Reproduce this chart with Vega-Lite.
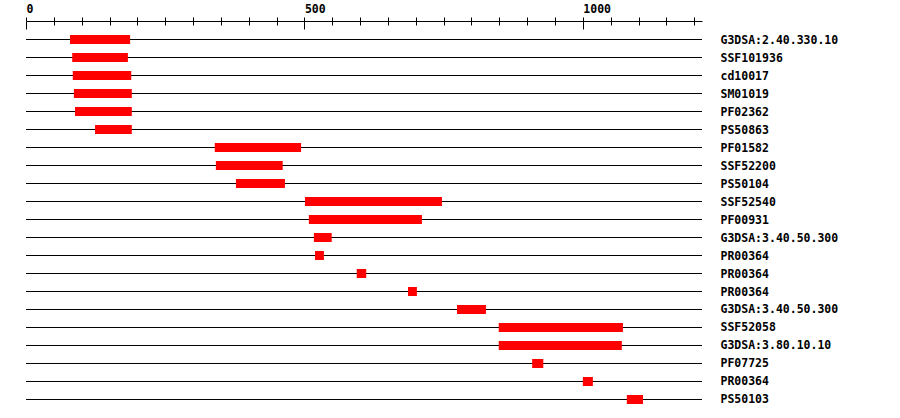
{
  "$schema": "https://vega.github.io/schema/vega-lite/v6.json",
  "autosize": {"type": "none"},
  "padding": {"left": 26, "top": 21, "right": 198, "bottom": 0},
  "width": 676,
  "height": 397,
  "background": "white",
  "config": {
    "view": {"stroke": null},
    "axis": {"labelColor": "black", "labelFont": "DejaVu Sans Mono", "labelFontWeight": "bold", "labelFontSize": 11.5, "title": null}
  },
  "data": {
    "values": [
      {"key": "01|G3DSA:2.40.330.10", "start": 79, "end": 187},
      {"key": "02|SSF101936", "start": 83, "end": 183},
      {"key": "03|cd10017", "start": 84, "end": 189},
      {"key": "04|SM01019", "start": 86, "end": 190},
      {"key": "05|PF02362", "start": 88, "end": 190},
      {"key": "06|PS50863", "start": 124, "end": 190},
      {"key": "07|PF01582", "start": 339, "end": 494},
      {"key": "08|SSF52200", "start": 341, "end": 461},
      {"key": "09|PS50104", "start": 377, "end": 465},
      {"key": "10|SSF52540", "start": 501, "end": 747},
      {"key": "11|PF00931", "start": 508, "end": 711},
      {"key": "12|G3DSA:3.40.50.300", "start": 517, "end": 549},
      {"key": "13|PR00364", "start": 519, "end": 535},
      {"key": "14|PR00364", "start": 594, "end": 611},
      {"key": "15|PR00364", "start": 686, "end": 702},
      {"key": "16|G3DSA:3.40.50.300", "start": 774, "end": 826},
      {"key": "17|SSF52058", "start": 849, "end": 1072},
      {"key": "18|G3DSA:3.80.10.10", "start": 849, "end": 1070},
      {"key": "19|PF07725", "start": 909, "end": 929},
      {"key": "20|PR00364", "start": 1000, "end": 1018},
      {"key": "21|PS50103", "start": 1079, "end": 1108}
    ]
  },
  "encoding": {
    "y": {
      "field": "key",
      "type": "ordinal",
      "sort": null,
      "scale": {"type": "band", "paddingInner": 0, "paddingOuter": 0.52778, "round": false},
      "axis": {
        "orient": "right",
        "ticks": false,
        "domain": false,
        "grid": false,
        "labelPadding": 18,
        "labelAlign": "left",
        "labelBaseline": "middle",
        "labelOffset": 1,
        "labelLimit": 0,
        "labelOverlap": false,
        "labelExpr": "substring(datum.label, indexof(datum.label, '|') + 1)"
      }
    }
  },
  "layer": [
    {
      "mark": {"type": "rule", "color": "black", "strokeWidth": 1},
      "encoding": {}
    },
    {
      "mark": {"type": "bar", "color": "#ff0000", "height": 9},
      "encoding": {
        "x": {
          "field": "start",
          "type": "quantitative",
          "scale": {"domain": [0, 1214], "nice": false, "zero": false},
          "axis": {
            "orient": "top",
            "values": [0, 50, 100, 150, 200, 250, 300, 350, 400, 450, 500, 550, 600, 650, 700, 750, 800, 850, 900, 950, 1000, 1050, 1100, 1150, 1200],
            "format": "d",
            "labelExpr": "datum.value % 500 === 0 ? datum.label : ''",
            "labelAlign": "left",
            "labelBaseline": "alphabetic",
            "labelPadding": 5,
            "labelFlush": false,
            "labelOverlap": false,
            "labelBound": false,
            "domainColor": "black",
            "domainWidth": 1,
            "tickColor": "black",
            "tickWidth": 1,
            "tickSize": 4,
            "grid": true,
            "gridColor": "black",
            "gridOpacity": 1,
            "gridWidth": 1,
            "gridDash": {"condition": {"test": "datum.value % 500 === 0", "value": [8, 2000]}, "value": [4, 2000]}
          }
        },
        "x2": {"field": "end"}
      }
    }
  ]
}
